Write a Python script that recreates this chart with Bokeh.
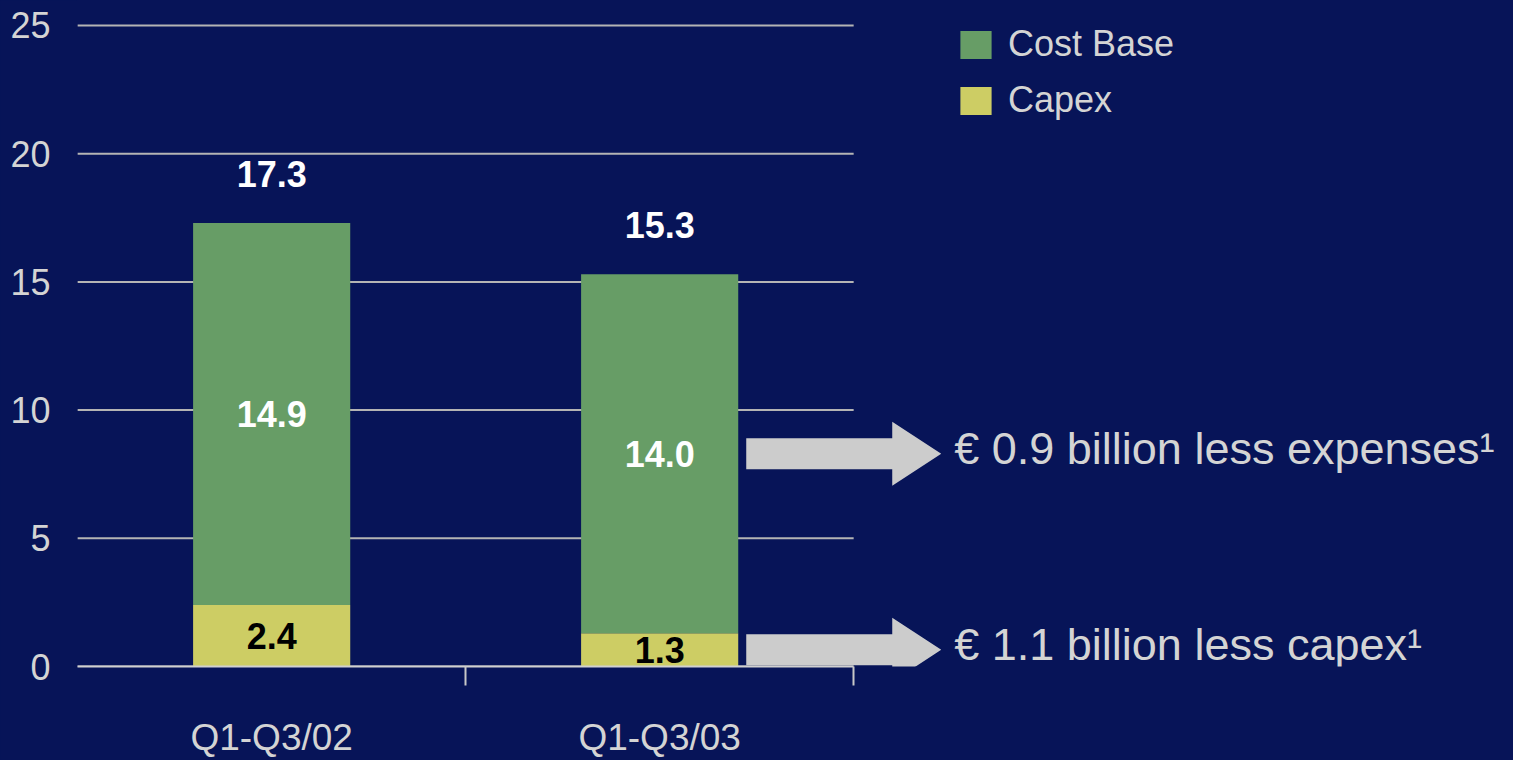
from bokeh.plotting import figure
from bokeh.models import (Range1d, FixedTicker, Legend, LegendItem, ColumnDataSource)
from bokeh.core.properties import value
from bokeh.embed import file_html
from bokeh.resources import INLINE

# ---- data ----
categories = ["Q1-Q3/02", "Q1-Q3/03"]
cost_base = [14.9, 14.0]
capex = [2.4, 1.3]
totals = [17.3, 15.3]
y_ticks = [0, 5, 10, 15, 20, 25]
savings_text = ["€ 0.9 billion less expenses¹", "€ 1.1 billion less capex¹"]

# ---- layout / style ----
W, H = 1513, 760
LEFT, BOTTOM = 76, 94
frame_w, frame_h = W - LEFT, H - BOTTOM
PX_CAT = 388.0                     # pixels per category slot
x_end = frame_w / PX_CAT
y_end = 25.975
px_y = frame_h / y_end
BAR_W = 0.405
BG = "#071458"
GREEN = "#679d66"
YELLOW = "#cdcd64"
LIGHT = "#d4d4d4"
FONT = "Liberation Sans"

p = figure(width=W, height=H, output_backend="svg", toolbar_location=None,
           x_range=Range1d(-0.003, x_end - 0.003), y_range=Range1d(0, y_end),
           min_border_left=LEFT, min_border_bottom=BOTTOM,
           min_border_top=0, min_border_right=0)
p.background_fill_color = BG
p.border_fill_color = BG
p.outline_line_color = BG
p.outline_line_width = 1
p.styles = {"background-color": BG}
p.grid.visible = False

n = len(categories)
xc = [i + 0.5 for i in range(n)]

# grid lines over the category area only
p.segment(x0=[0] * len(y_ticks), x1=[n] * len(y_ticks), y0=y_ticks, y1=y_ticks,
          line_color="#b4b4b4", line_width=2)

# stacked bars
src = ColumnDataSource(dict(
    x=xc, capex=capex, cost=cost_base,
    top_cost=[a + b for a, b in zip(capex, cost_base)],
))
r_capex = p.vbar(x="x", width=BAR_W, bottom=0, top="capex", source=src,
                 fill_color=YELLOW, line_color=None)
r_cost = p.vbar(x="x", width=BAR_W, bottom="capex", top="top_cost", source=src,
                fill_color=GREEN, line_color=None)

# value labels
VAL_SIZE = "36px"
p.text(x=xc, y=[c / 2 for c in capex], text=[f"{v:.1f}" for v in capex],
       text_font=value(FONT), text_font_style="bold", text_font_size=VAL_SIZE,
       text_color="black", text_align="center", text_baseline="middle")
p.text(x=xc, y=[a + b / 2 for a, b in zip(capex, cost_base)],
       text=[f"{v:.1f}" for v in cost_base],
       text_font=value(FONT), text_font_style="bold", text_font_size=VAL_SIZE,
       text_color="white", text_align="center", text_baseline="middle")
p.text(x=xc, y=[t + 1.9 for t in totals], text=[f"{v:.1f}" for v in totals],
       text_font=value(FONT), text_font_style="bold", text_font_size=VAL_SIZE,
       text_color="white", text_align="center", text_baseline="middle")

# arrows next to the second bar
last = n - 1
arrow_y = [capex[last] + cost_base[last] / 2, capex[last] / 2]
x0 = xc[last] + BAR_W / 2 + 8 / PX_CAT
xb = x0 + 146 / PX_CAT
xt = xb + 49 / PX_CAT
bh, hh = 15.5 / px_y, 32 / px_y
xs = [[x0, xb, xb, xt, xb, xb, x0] for _ in arrow_y]
ys = [[y - bh, y - bh, y - hh, y, y + hh, y + bh, y + bh] for y in arrow_y]
p.patches(xs, ys, fill_color="#cccccc", line_color=None)

p.text(x=[xt + 13 / PX_CAT] * len(arrow_y), y=[y + 5 / px_y for y in arrow_y],
       text=savings_text, text_font=value(FONT), text_font_size="45px",
       text_color=LIGHT, text_align="left", text_baseline="middle")

# axes
xa = p.xaxis[0]
xa.ticker = FixedTicker(ticks=xc, minor_ticks=[i + 1 for i in range(n)])
xa.major_label_overrides = {x: c for x, c in zip(xc, categories)}
xa.bounds = (0, n)
xa.axis_line_color = "#d0d0d0"
xa.axis_line_width = 2
xa.major_tick_out = 0
xa.major_tick_in = 0
xa.minor_tick_out = 19
xa.minor_tick_in = 0
xa.minor_tick_line_color = "#c8c8c8"
xa.minor_tick_line_width = 2
xa.major_label_standoff = 31
xa.major_label_text_font = FONT
xa.major_label_text_font_size = "37px"
xa.major_label_text_color = LIGHT

ya = p.yaxis[0]
ya.ticker = FixedTicker(ticks=y_ticks, minor_ticks=[])
ya.axis_line_color = None
ya.major_tick_line_color = None
ya.minor_tick_line_color = None
ya.major_label_standoff = 20
ya.major_label_text_font = FONT
ya.major_label_text_font_size = "36px"
ya.major_label_text_color = LIGHT

# legend
legend = Legend(items=[LegendItem(label="Cost Base", renderers=[r_cost]),
                       LegendItem(label="Capex", renderers=[r_capex])],
                location=(880, 545), glyph_width=39, glyph_height=35,
                label_height=28, spacing=14, label_standoff=13,
                label_text_font=FONT, label_text_font_size="36px",
                label_text_color=LIGHT, label_text_baseline="middle",
                background_fill_alpha=0, border_line_alpha=0,
                padding=0, margin=0)
p.add_layout(legend)

html = file_html(p, INLINE)
html = html.replace("<body>", f'<body style="background-color:{BG};">', 1)
open("out.html", "w").write(html)
